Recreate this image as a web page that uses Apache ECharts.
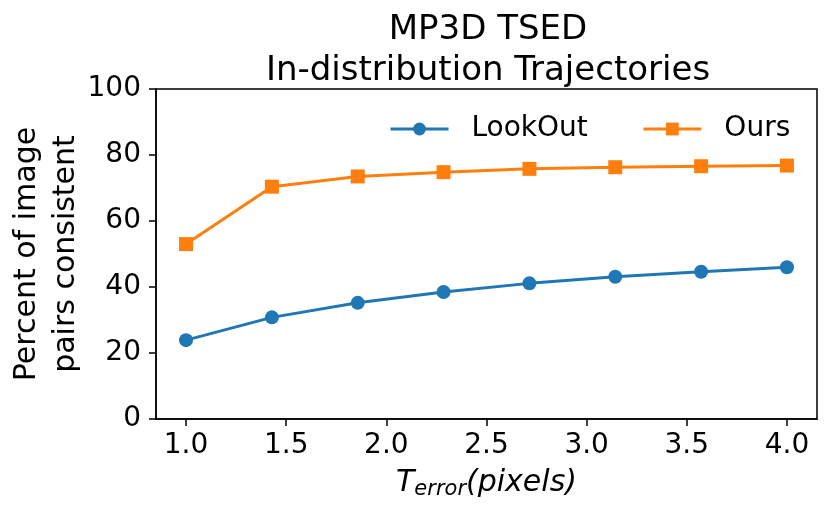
<html>
<head>
<meta charset="utf-8">
<script src="https://cdn.jsdelivr.net/npm/echarts@6/dist/echarts.min.js"></script>
<style>
  html, body { margin: 0; padding: 0; background: #fff; }
  #main { width: 831px; height: 516px; }
</style>
</head>
<body>
<div id="main"></div>
<script>
// values
var errorThresholds = [1.0, 1.4286, 1.8571, 2.2857, 2.7143, 3.1429, 3.5714, 4.0];
var lookOut = [23.9, 30.8, 35.2, 38.5, 41.1, 43.1, 44.6, 46.0];
var ours = [53.0, 70.4, 73.5, 74.8, 75.8, 76.3, 76.6, 76.8];
var xTicks = [1.0, 1.5, 2.0, 2.5, 3.0, 3.5, 4.0];
var yTicks = [0, 20, 40, 60, 80, 100];

function pairs(ys) {
    return errorThresholds.map(function (x, i) { return [x, ys[i]]; });
}

var font = 'DejaVu Sans';
var chart = echarts.init(document.getElementById('main'));

chart.setOption({
    animation: false,
    title: {
        text: 'MP3D TSED\nIn-distribution Trajectories',
        left: 483,
        textAlign: 'center',
        top: 5,
        textStyle: {
            fontFamily: font,
            fontSize: 34,
            fontWeight: 'normal',
            color: '#000',
            lineHeight: 41
        }
    },
    legend: {
        left: 384,
        top: 110,
        itemWidth: 58,
        itemHeight: 16,
        itemGap: 54,
        lineStyle: { width: 3 },
        textStyle: {
            fontFamily: font,
            fontSize: 28,
            color: '#000',
            padding: [0, 0, 0, 18]
        },
        data: ['LookOut', 'Ours']
    },
    grid: {
        left: 156,
        right: 14,
        top: 89,
        bottom: 97,
        show: true,
        borderColor: '#000',
        borderWidth: 1.5,
        containLabel: false,
        outerBoundsMode: 'none'
    },
    xAxis: {
        type: 'value',
        min: 0.85,
        max: 4.15,
        name: '{t|T}{s|error}{p|(pixels)}',
        nameLocation: 'middle',
        nameGap: 48,
        nameMoveOverlap: false,
        nameTextStyle: {
            rich: {
                t: { fontFamily: font, fontStyle: 'italic', fontSize: 30, color: '#000' },
                s: { fontFamily: font, fontStyle: 'italic', fontSize: 21, color: '#000', padding: [12, 0, 0, 0] },
                p: { fontFamily: font, fontStyle: 'italic', fontSize: 30, color: '#000' }
            }
        },
        axisLine: { show: true, onZero: false, lineStyle: { color: '#000', width: 1.5 } },
        axisTick: { show: true, customValues: xTicks, length: 7, lineStyle: { color: '#000', width: 1.5 } },
        axisLabel: {
            customValues: xTicks,
            margin: 13,
            fontFamily: font,
            fontSize: 28,
            color: '#000',
            formatter: function (v) { return v.toFixed(1); }
        },
        splitLine: { show: false }
    },
    yAxis: {
        type: 'value',
        min: 0,
        max: 100,
        interval: 20,
        name: 'Percent of image\npairs consistent',
        nameLocation: 'middle',
        nameGap: 70,
        nameMoveOverlap: false,
        nameTextStyle: {
            fontFamily: font,
            fontSize: 30,
            color: '#000',
            lineHeight: 39
        },
        axisLine: { show: true, lineStyle: { color: '#000', width: 1.5 } },
        axisTick: { show: true, length: 7, lineStyle: { color: '#000', width: 1.5 } },
        axisLabel: {
            margin: 15,
            fontFamily: font,
            fontSize: 28,
            color: '#000',
            customValues: yTicks
        },
        splitLine: { show: false }
    },
    series: [
        {
            name: 'LookOut',
            type: 'line',
            data: pairs(lookOut),
            symbol: 'circle',
            symbolSize: 14,
            color: '#1f77b4',
            lineStyle: { width: 3 },
            itemStyle: { color: '#1f77b4' }
        },
        {
            name: 'Ours',
            type: 'line',
            data: pairs(ours),
            symbol: 'rect',
            symbolSize: 14,
            color: '#ff7f0e',
            lineStyle: { width: 3 },
            itemStyle: { color: '#ff7f0e' }
        }
    ]
});
</script>
</body>
</html>
